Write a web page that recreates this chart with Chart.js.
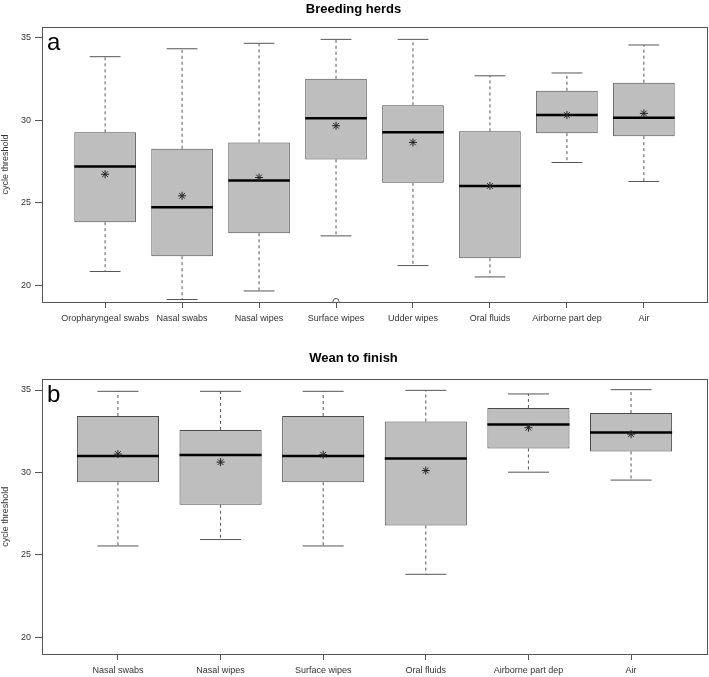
<!DOCTYPE html>
<html>
<head>
<meta charset="utf-8">
<script src="https://cdn.jsdelivr.net/npm/chart.js@4.4.1/dist/chart.umd.min.js"></script>
<style>
  body { margin: 0; background: #fff; }
  canvas { display: block; }
</style>
</head>
<body>
<canvas id="breedingChart" width="709" height="330"></canvas>
<canvas id="weanChart" width="709" height="347"></canvas>
<script>
// Breeding herds (panel a)
const breedingCats = ['Oropharyngeal swabs', 'Nasal swabs', 'Nasal wipes', 'Surface wipes', 'Udder wipes', 'Oral fluids', 'Airborne part dep', 'Air'];
const breedingMin = [20.82, 19.12, 19.64, 22.98, 21.18, 20.49, 27.43, 26.28];
const breedingQ1 = [23.81, 21.75, 23.14, 27.62, 26.20, 21.62, 29.21, 29.03];
const breedingMedian = [27.19, 24.72, 26.34, 30.11, 29.26, 26.01, 30.31, 30.14];
const breedingQ3 = [29.26, 28.26, 28.65, 32.51, 30.90, 29.32, 31.78, 32.27];
const breedingMax = [33.85, 34.33, 34.66, 34.90, 34.90, 32.69, 32.86, 34.56];
const breedingMean = [26.72, 25.41, 26.52, 29.66, 28.65, 26.01, 30.31, 30.41];
const breedingOutlierCat = [4];
const breedingOutlierValue = [19.0];

// Wean to finish (panel b)
const weanCats = ['Nasal swabs', 'Nasal wipes', 'Surface wipes', 'Oral fluids', 'Airborne part dep', 'Air'];
const weanMin = [25.53, 25.92, 25.53, 23.81, 30.01, 29.53];
const weanQ1 = [29.40, 28.03, 29.40, 26.77, 31.45, 31.27];
const weanMedian = [30.99, 31.05, 30.99, 30.84, 32.91, 32.42];
const weanQ3 = [33.42, 32.57, 33.42, 33.09, 33.91, 33.60];
const weanMax = [34.92, 34.92, 34.92, 34.98, 34.76, 35.02];
const weanMean = [31.11, 30.62, 31.07, 30.11, 32.71, 32.32];

const yTicks = [20, 25, 30, 35];
const yMin = 18.97;
const yMax = 35.65;

Chart.defaults.font.family = "'Liberation Sans', Arial, sans-serif";
Chart.defaults.color = '#333';

// box outline around the plot region, like R's box()
const framePlugin = {
    id: 'frame',
    afterDraw(chart) {
        const a = chart.chartArea;
        const ctx = chart.ctx;
        ctx.save();
        ctx.strokeStyle = '#555';
        ctx.lineWidth = 1;
        ctx.strokeRect(Math.round(a.left) + 0.5, Math.round(a.top) + 0.5,
            Math.round(a.right - a.left), Math.round(a.bottom - a.top));
        ctx.restore();
    }
};

// big panel letter in the top left corner
const panelLetterPlugin = {
    id: 'panelLetter',
    afterDraw(chart, args, opts) {
        const a = chart.chartArea;
        const ctx = chart.ctx;
        ctx.save();
        ctx.fillStyle = '#000';
        ctx.font = "24px 'Liberation Sans', Arial, sans-serif";
        ctx.textBaseline = 'alphabetic';
        ctx.fillText(opts.text, a.left + 5, a.top + 22.5);
        ctx.restore();
    }
};

// half of a width given in category units, in pixels
function halfWidth(chart, units) {
    const x = chart.scales.x;
    return Math.abs(x.getPixelForValue(units) - x.getPixelForValue(0));
}

function createBoxChart(canvasId, cfg) {
    const n = cfg.cats.length;
    const pos = cfg.cats.map((c, i) => i + 1);

    const whiskers = [];
    pos.forEach((x, i) => {
        whiskers.push({ x: x, y: cfg.q3[i] }, { x: x, y: cfg.max[i] }, { x: x, y: null });
        whiskers.push({ x: x, y: cfg.q1[i] }, { x: x, y: cfg.min[i] }, { x: x, y: null });
    });
    const caps = [];
    pos.forEach((x, i) => {
        caps.push({ x: x, y: cfg.min[i] }, { x: x, y: cfg.max[i] });
    });

    const datasets = [
        {
            type: 'line',
            data: whiskers,
            borderColor: '#555',
            borderWidth: 1,
            borderDash: [3, 3],
            pointRadius: 0,
            spanGaps: false,
            order: 6
        },
        {
            type: 'bar',
            data: pos.map((x, i) => ({ x: x, y: [cfg.q1[i], cfg.q3[i]] })),
            backgroundColor: '#bebebe',
            borderColor: '#4a4a4a',
            borderWidth: 1,
            borderSkipped: false,
            barPercentage: 1,
            categoryPercentage: 0.8,
            order: 5
        },
        {
            type: 'scatter',
            data: caps,
            pointStyle: 'line',
            pointRadius: ctx => halfWidth(ctx.chart, 0.2),
            pointBorderColor: '#555',
            pointBorderWidth: 1,
            order: 4
        },
        {
            type: 'scatter',
            data: pos.map((x, i) => ({ x: x, y: cfg.median[i] })),
            pointStyle: 'line',
            pointRadius: ctx => halfWidth(ctx.chart, 0.4),
            pointBorderColor: '#000',
            pointBorderWidth: 2.5,
            order: 3
        },
        {
            type: 'scatter',
            data: pos.map((x, i) => ({ x: x, y: cfg.mean[i] })),
            pointStyle: 'star',
            pointRadius: 4,
            pointBorderColor: '#222',
            pointBorderWidth: 1,
            order: 1
        }
    ];

    if (cfg.outlierCat) {
        datasets.push({
            type: 'scatter',
            data: cfg.outlierCat.map((c, i) => ({ x: c, y: cfg.outlierValue[i] })),
            pointStyle: 'circle',
            pointRadius: 3,
            pointBackgroundColor: 'rgba(0,0,0,0)',
            pointBorderColor: '#555',
            pointBorderWidth: 1,
            order: 2
        });
    }

    const ctx = document.getElementById(canvasId).getContext('2d');
    return new Chart(ctx, {
        type: 'bar',
        data: { datasets: datasets },
        options: {
            responsive: false,
            animation: false,
            events: [],
            layout: { autoPadding: false, padding: { left: 0, right: 2, top: 0, bottom: 0 } },
            plugins: {
                legend: { display: false },
                tooltip: { enabled: false },
                title: {
                    display: true,
                    text: cfg.title,
                    color: '#000',
                    font: { size: 13, weight: 'bold' },
                    padding: cfg.titlePadding
                },
                panelLetter: { text: cfg.letter }
            },
            scales: {
                x: {
                    type: 'linear',
                    offset: false,
                    min: 0.5 - 0.04 * n,
                    max: n + 0.5 + 0.04 * n,
                    afterBuildTicks: scale => { scale.ticks = pos.map(v => ({ value: v })); },
                    afterFit: scale => { scale.height = cfg.xAxisHeight; },
                    ticks: {
                        autoSkip: false,
                        maxRotation: 0,
                        padding: 5,
                        font: { size: 9 },
                        callback: v => cfg.cats[v - 1]
                    },
                    grid: { offset: false, drawOnChartArea: false, drawTicks: true, tickLength: 6, color: '#555' },
                    border: { display: false }
                },
                y: {
                    type: 'linear',
                    min: yMin,
                    max: yMax,
                    beginAtZero: false,
                    afterBuildTicks: scale => { scale.ticks = yTicks.map(v => ({ value: v })); },
                    afterFit: scale => { scale.width = 42; },
                    ticks: { padding: 4, font: { size: 9 } },
                    grid: { drawOnChartArea: false, drawTicks: true, tickLength: 7, color: '#555' },
                    border: { display: false },
                    title: {
                        display: true,
                        text: 'cycle threshold',
                        font: { size: 9 },
                        padding: { top: 0, bottom: 0 }
                    }
                }
            }
        },
        plugins: [framePlugin, panelLetterPlugin]
    });
}

createBoxChart('breedingChart', {
    title: 'Breeding herds', letter: 'a',
    cats: breedingCats, min: breedingMin, q1: breedingQ1, median: breedingMedian,
    q3: breedingQ3, max: breedingMax, mean: breedingMean,
    outlierCat: breedingOutlierCat, outlierValue: breedingOutlierValue,
    titlePadding: { top: 1.5, bottom: 9.9 },
    xAxisHeight: 28
});

createBoxChart('weanChart', {
    title: 'Wean to finish', letter: 'b',
    cats: weanCats, min: weanMin, q1: weanQ1, median: weanMedian,
    q3: weanQ3, max: weanMax, mean: weanMean,
    titlePadding: { top: 20.2, bottom: 13.5 },
    xAxisHeight: 23
});
</script>
</body>
</html>
